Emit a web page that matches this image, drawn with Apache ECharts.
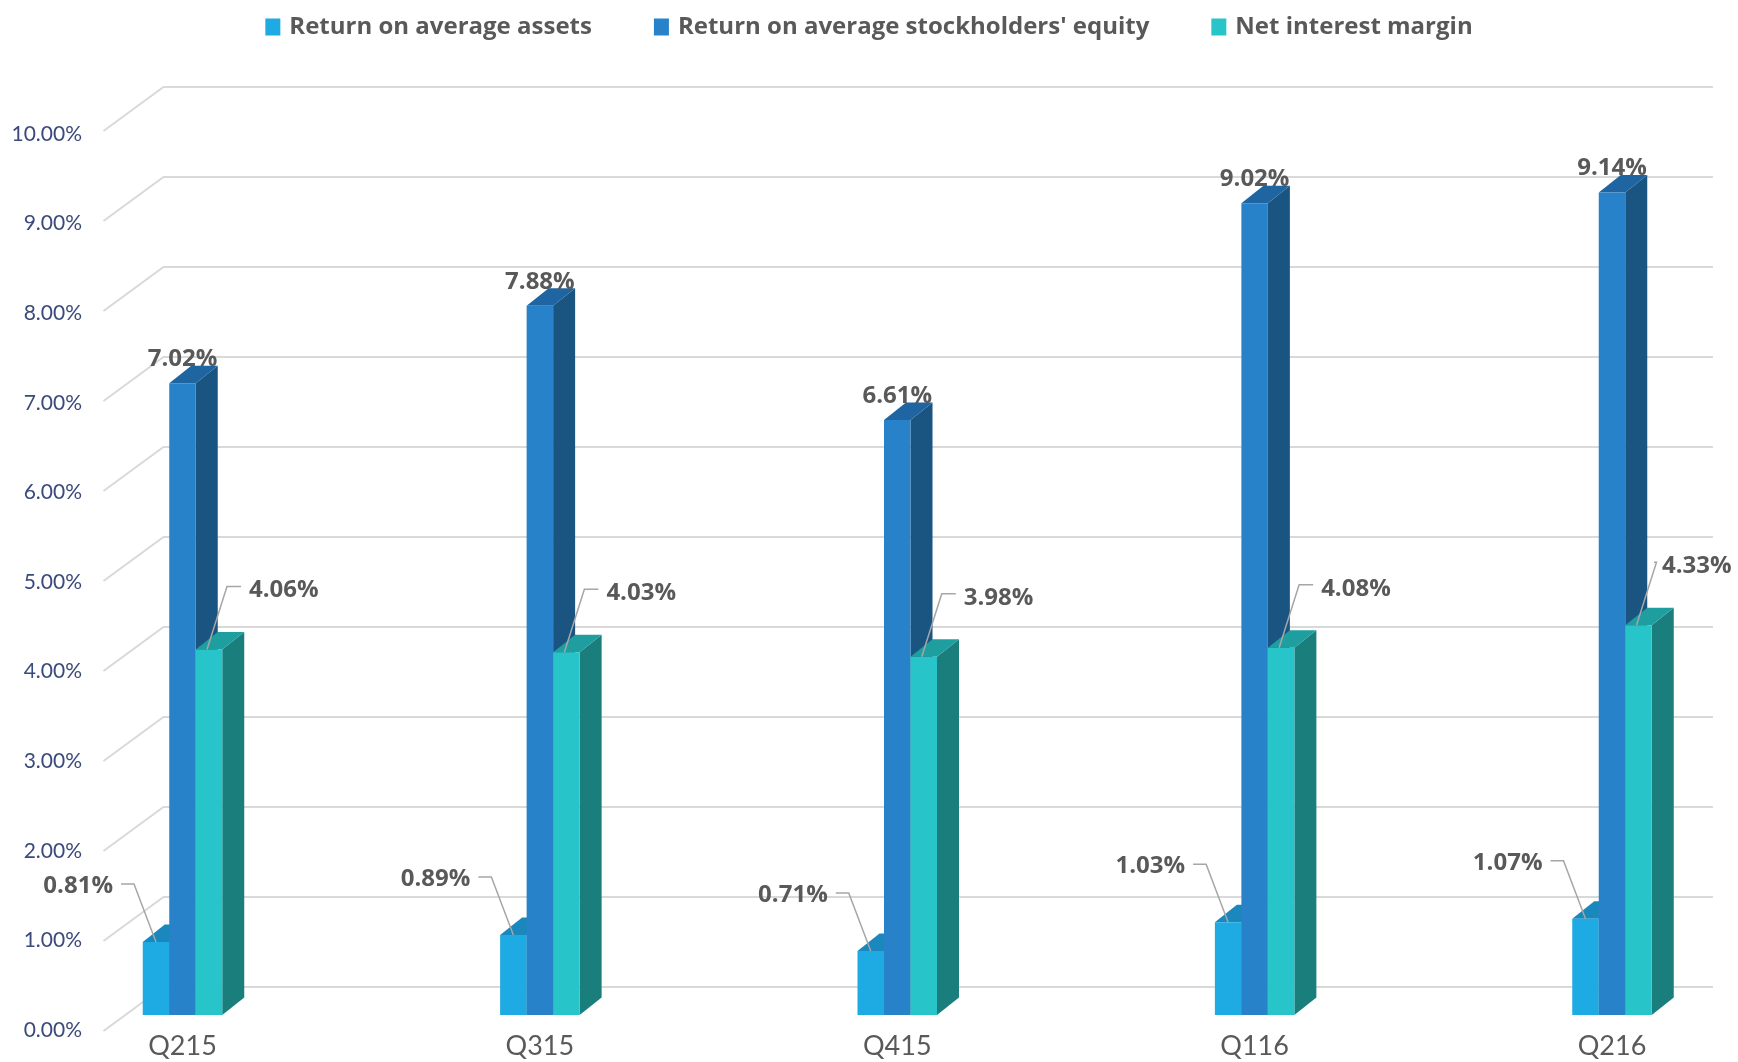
<!DOCTYPE html>
<html>
<head>
<meta charset="utf-8">
<script src="https://cdn.jsdelivr.net/npm/echarts@6/dist/echarts.min.js"></script>
<style>
html,body{margin:0;padding:0;background:#fff;}
#chart{width:1738px;height:1062px;}
</style>
</head>
<body>
<div id="chart"></div>
<script>
const categories = ['Q215', 'Q315', 'Q415', 'Q116', 'Q216'];
const seriesNames = ['Return on average assets', "Return on average stockholders' equity", 'Net interest margin'];
const roa = [0.81, 0.89, 0.71, 1.03, 1.07];
const roe = [7.02, 7.88, 6.61, 9.02, 9.14];
const nim = [4.06, 4.03, 3.98, 4.08, 4.33];
const yTicks = [0, 1, 2, 3, 4, 5, 6, 7, 8, 9, 10];
const yTickLabels = ['0.00%', '1.00%', '2.00%', '3.00%', '4.00%', '5.00%', '6.00%', '7.00%', '8.00%', '9.00%', '10.00%'];

const FONT = 'Lato';
const BOLD_FONT = '"Open Sans"';
const BAR_W = 26.5;
const DEPTH_X = 22, DEPTH_Y = -17.5;
const palette = [
  {front: '#1eaae2', top: '#1a88bd', side: '#15739f'},
  {front: '#2882c9', top: '#1f65a1', side: '#1a5480'},
  {front: '#27c5c9', top: '#1f9ea0', side: '#1a7e7d'}
];

function fmt(v) { return v.toFixed(2) + '%'; }

function gridRender(params, api) {
  const v = api.value(1);
  const p = api.coord([0, v]);
  const cs = params.coordSys;
  const yBack = p[1] - 28;
  const xBackL = cs.x - 19;
  const xBackR = cs.x + cs.width + 101;
  return {
    type: 'polyline',
    shape: {points: [[xBackL - 60, yBack + 44], [xBackL, yBack], [xBackR, yBack]]},
    style: {stroke: '#d9d9d9', lineWidth: 2, fill: null}
  };
}

function makeBarRender(slot, kind) {
  const c = palette[slot];
  return function (params, api) {
    const ci = api.value(0), v = api.value(1);
    const b = api.coord([ci, 0]);
    const t = api.coord([ci, v]);
    const x0 = b[0] + (slot - 1.5) * BAR_W, x1 = x0 + BAR_W;
    const yb = b[1], yt = t[1];
    const children = [
      {type: 'polygon', shape: {points: [[x1, yt], [x1 + DEPTH_X, yt + DEPTH_Y], [x1 + DEPTH_X, yb + DEPTH_Y], [x1, yb]]}, style: {fill: c.side}},
      {type: 'polygon', shape: {points: [[x0, yt], [x1, yt], [x1 + DEPTH_X, yt + DEPTH_Y], [x0 + DEPTH_X, yt + DEPTH_Y]]}, style: {fill: c.top}},
      {type: 'rect', shape: {x: x0, y: yt, width: BAR_W, height: yb - yt}, style: {fill: c.front}}
    ];
    const cx = (x0 + x1) / 2;
    const labelStyle = {fill: '#595959', font: 'bold 24px ' + BOLD_FONT, text: fmt(v)};
    if (kind === 'top') {
      children.push({type: 'text', x: b[0], y: yt - 24, style: Object.assign({align: 'center', verticalAlign: 'middle'}, labelStyle)});
    } else if (kind === 'right') {
      const tx = Math.min(cx + 40, api.getWidth() - 76);
      children.push({type: 'polyline', shape: {points: [[cx - 2, yt], [cx + 18, yt - 63], [tx - 8, yt - 63]]}, style: {stroke: '#a6a6a6', lineWidth: 1.5, fill: null}});
      children.push({type: 'text', x: tx, y: yt - 59, style: Object.assign({align: 'left', verticalAlign: 'middle'}, labelStyle)});
    } else {
      children.push({type: 'polyline', shape: {points: [[cx, yt], [cx - 22, yt - 58], [cx - 35, yt - 58]]}, style: {stroke: '#a6a6a6', lineWidth: 1.5, fill: null}});
      children.push({type: 'text', x: cx - 43, y: yt - 56, style: Object.assign({align: 'right', verticalAlign: 'middle'}, labelStyle)});
    }
    return {type: 'group', children: children};
  };
}

const chart = echarts.init(document.getElementById('chart'), null, {renderer: 'canvas'});
chart.setOption({
  backgroundColor: '#ffffff',
  animation: false,
  legend: {
    data: seriesNames,
    top: 10,
    left: 'center',
    icon: 'rect',
    itemWidth: 15,
    itemHeight: 17,
    itemGap: 62,
    textStyle: {color: '#595959', fontFamily: BOLD_FONT, fontWeight: 'bold', fontSize: 24, padding: [0, 0, 0, 4]}
  },
  grid: [
    {left: 182.5, right: 126, top: 115, bottom: 47},
    {left: 92, width: 10, top: 134, bottom: 32}
  ],
  xAxis: [
    {type: 'category', data: categories, boundaryGap: false, gridIndex: 0,
     axisLine: {show: false}, axisTick: {show: false}, splitLine: {show: false},
     axisLabel: {color: '#595959', fontFamily: FONT, fontSize: 27, margin: 18}},
    {type: 'value', gridIndex: 1, show: false}
  ],
  yAxis: [
    {type: 'value', gridIndex: 0, min: 0, max: 10, interval: 1, show: false},
    {type: 'value', gridIndex: 1, min: 0, max: 10, interval: 1,
     axisLine: {show: false}, axisTick: {show: false}, splitLine: {show: false},
     axisLabel: {color: '#3b4a7c', fontFamily: FONT, fontSize: 21, margin: 10,
       formatter: function (v) { return yTickLabels[yTicks.indexOf(v)]; }}}
  ],
  series: [
    {type: 'custom', name: 'grid', xAxisIndex: 0, yAxisIndex: 0, silent: true, z: 1,
     data: yTicks.map(v => [0, v]), renderItem: gridRender},
    {type: 'custom', name: seriesNames[0], xAxisIndex: 0, yAxisIndex: 0, z: 2,
     itemStyle: {color: palette[0].front}, data: roa.map((v, i) => [i, v]), renderItem: makeBarRender(0, 'left')},
    {type: 'custom', name: seriesNames[1], xAxisIndex: 0, yAxisIndex: 0, z: 3,
     itemStyle: {color: palette[1].front}, data: roe.map((v, i) => [i, v]), renderItem: makeBarRender(1, 'top')},
    {type: 'custom', name: seriesNames[2], xAxisIndex: 0, yAxisIndex: 0, z: 4,
     itemStyle: {color: palette[2].front}, data: nim.map((v, i) => [i, v]), renderItem: makeBarRender(2, 'right')}
  ]
});
</script>
</body>
</html>
